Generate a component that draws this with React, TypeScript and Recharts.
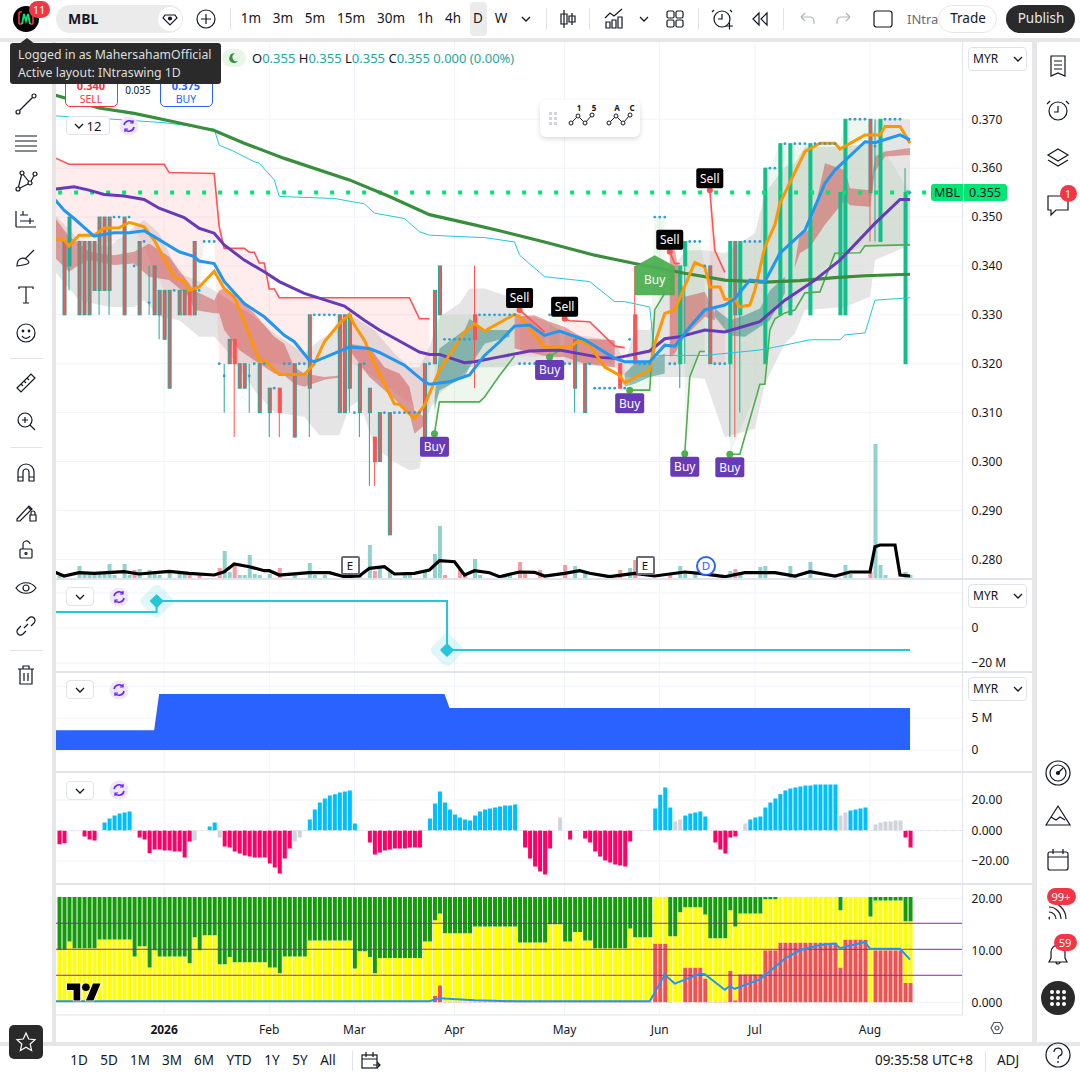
import React from "react";
import { ComposedChart, Line, Bar, Area, XAxis, YAxis, CartesianGrid, ReferenceLine, ReferenceDot, Cell } from "recharts";

const FONT = '"Noto Sans", sans-serif';
type P = [number, number];
type B = [number, number, number];

const monthBars = [21, 42, 59, 79, 101, 120, 139, 162];
const monthLabels = ["2026", "Feb", "Mar", "Apr", "May", "Jun", "Jul", "Aug"];
const priceTicks = [0.28, 0.29, 0.3, 0.31, 0.32, 0.33, 0.34, 0.35, 0.36, 0.37];

const orangeLine: P[] = [[-1,.3456],[1,.3453],[2,.3441],[4,.3463],[7,.3463],[8,.347],[9,.3477],[12,.3478],[14,.3489],[17,.348],[19,.3453],[23,.3378],[25,.3368],[26,.335],[28,.3357],[31,.3389],[33,.3354],[35,.3337],[37,.3286],[40,.3207],[41,.3207],[44,.3178],[49,.3178],[51,.32],[53,.3245],[56,.3282],[58,.3301],[59,.3279],[61,.3248],[63,.32],[67,.3118],[68,.3117],[71,.3088],[73,.3115],[74,.3139],[76,.3187],[81,.3265],[83,.3282],[85,.3267],[91,.3301],[92,.3296],[97,.3234],[102,.3234],[104,.3248],[106,.3238],[109,.3193],[112,.3176],[113,.3161],[118,.3187],[119,.3241],[121,.3303],[123,.331],[127,.3407],[129,.3398],[130,.3357],[132,.3357],[133,.3332],[135,.3332],[136,.3316],[138,.332],[139,.335],[141,.3439],[143,.3484],[144,.3528],[149,.3634],[152,.3651],[155,.3651],[156,.3639],[161,.3668],[164,.3668],[165,.3685],[168,.3685],[170,.3651]];
const blueLine: P[] = [[-1,.3538],[1,.3514],[3,.3497],[7,.3461],[11,.3468],[14,.3468],[17,.3472],[19,.346],[24,.3429],[27,.3419],[28,.341],[31,.3405],[33,.3368],[37,.3323],[41,.3296],[45,.3258],[47,.3245],[50,.3207],[51,.3204],[55,.3221],[58,.3234],[62,.3231],[64,.3223],[69,.3197],[73,.3163],[74,.3158],[78,.3163],[82,.3177],[85,.3217],[88,.3245],[91,.3277],[94,.3279],[97,.3258],[100,.3267],[105,.3249],[111,.3211],[113,.3204],[118,.3204],[121,.3238],[123,.3236],[126,.3275],[129,.331],[133,.332],[135,.3333],[138,.3371],[141,.3368],[144,.3426],[149,.3473],[153,.3569],[155,.3596],[161,.3654],[163,.3652],[168,.3668],[170,.3658]];
const purpleLine: P[] = [[-1,.3557],[3,.3562],[6,.3555],[9,.3546],[13,.3543],[17,.3536],[20,.3518],[25,.3499],[28,.3477],[31,.3467],[33,.3443],[37,.3412],[41,.3388],[44,.3368],[49,.3344],[57,.3318],[61,.3289],[64,.3269],[67,.3252],[72,.3224],[74,.3219],[76,.3219],[81,.3202],[83,.3204],[88,.3214],[94,.3226],[100,.3228],[108,.3213],[111,.3211],[118,.3226],[121,.3251],[124,.3255],[129,.3269],[133,.3265],[140,.3286],[145,.333],[151,.3371],[156,.3412],[163,.3487],[168,.3536],[170,.3536]];
const longLine: P[] = [[-1,.375],[8,.3723],[15,.3712],[22,.3697],[31,.3677],[37,.3651],[45,.362],[58,.3576],[66,.3542],[74,.3505],[83,.3484],[88,.3472],[97,.3449],[107,.3422],[115,.3405],[125,.3385],[133,.3371],[141,.3367],[148,.337],[155,.3376],[161,.338],[170,.3383]];
const cyanLine: P[] = [[-1,.3707],[8,.3702],[21,.3693],[31,.368],[32,.3647],[35,.3634],[39,.3613],[40,.361],[43,.3576],[44,.3542],[55,.3538],[61,.3527],[63,.3508],[69,.3497],[72,.347],[74,.3463],[78,.3461],[85,.3458],[91,.3449],[92,.3422],[97,.3378],[106,.3368],[111,.3327],[113,.3327],[118,.3316],[119,.3217],[121,.3217],[129,.3217],[140,.3228],[145,.3238],[150,.3249],[156,.3249],[157,.3259],[161,.3263],[163,.333],[170,.3335]];

const redStops: P[][] = [
  [[-1,.3622],[2,.3608],[21,.3608],[22,.3591],[31,.3589],[32,.348],[33,.3436],[37,.3436],[38,.3428],[39,.3428],[40,.3406],[41,.3406],[42,.3353],[43,.3353],[44,.3335],[70,.3335],[72,.3292],[74,.3292]],
  [[92,.331],[97,.3265]],
  [[101,.3292],[102,.3288],[106,.3286],[111,.3236],[113,.3233]],
  [[122,.3429],[123,.3405],[124,.3405]],
  [[130,.3555],[131,.3432],[133,.3387]],
];
const greenStops: P[][] = [
  [[75,.3057],[76,.3122],[84,.3122],[85,.3132],[88,.3176],[91,.3216]],
  [[98,.3214],[100,.3228]],
  [[114,.3146],[118,.3146],[119,.331],[121,.3344]],
  [[125,.3016],[126,.3173],[128,.3225],[129,.3225]],
  [[134,.3015],[136,.3015],[140,.3158],[141,.3158],[142,.3269],[143,.3292],[145,.3304],[147,.331],[149,.3345],[152,.3347],[155,.3426],[160,.3427],[161,.3441],[169,.3443],[170,.3443]],
];
const pinkBands: B[][] = [
  [[-1,.3622,.345],[2,.3608,.345],[12,.3608,.345],[14,.3608,.35],[21,.3608,.335],[22,.3591,.335],[28,.3589,.335],[29,.3589,.345],[31,.3589,.345],[32,.348,.32],[33,.3436,.32],[37,.3436,.32],[38,.3428,.32],[40,.3406,.32],[41,.3406,.32],[42,.3353,.32],[44,.3335,.32],[50,.3335,.32],[51,.3335,.33],[55,.3335,.33],[56,.3335,.322],[66,.3335,.315],[70,.3335,.312],[72,.3292,.31],[74,.3292,.31]],
  [[92,.331,.3215],[97,.3265,.3215]],
  [[101,.3292,.32],[106,.3286,.32],[111,.3236,.32],[113,.3233,.3153]],
  [[122,.3429,.32],[123,.3405,.32],[124,.3405,.32]],
  [[130,.3555,.32],[131,.3432,.32],[133,.3387,.32]],
];
const paleGreenBands: B[][] = [
  [[75,.32,.3057],[76,.33,.3122],[84,.33,.3122],[85,.33,.3132],[88,.33,.3176],[91,.33,.3216]],
  [[98,.33,.3214],[100,.33,.3228]],
  [[114,.32,.3146],[118,.32,.3146],[119,.35,.331],[121,.35,.3344]],
  [[125,.345,.3016],[126,.345,.3173],[128,.345,.3225],[129,.34,.3225]],
  [[134,.345,.3015],[140,.345,.3158],[141,.36,.3158],[142,.36,.3269],[144,.365,.33],[156,.365,.3426],[157,.37,.3427],[161,.37,.3441],[170,.355,.3443]],
];
const grayBand: B[] = [[-1,.3507,.3391],[4,.3453,.333],[10,.3439,.3316],[15,.348,.3316],[17,.3494,.333],[20,.3467,.3296],[24,.3385,.3289],[28,.3368,.3255],[31,.335,.3255],[34,.333,.3221],[39,.3296,.3146],[43,.3262,.3101],[49,.3221,.3091],[52,.3248,.3054],[56,.3275,.3054],[58,.3299,.3112],[60,.3289,.3125],[63,.3269,.303],[67,.3221,.2999],[70,.3193,.2982],[72,.3193,.2985],[74,.3234,.3105],[76,.3296,.3139],[80,.3323,.3173],[82,.3354,.3193],[85,.3354,.3193],[90,.3337,.3193],[92,.3303,.32],[97,.3289,.32],[101,.3262,.32],[111,.3248,.3193],[113,.32,.3173],[115,.3269,.3173],[118,.3269,.3173],[121,.3364,.3173],[125,.3432,.3173],[129,.3432,.3169],[133,.3426,.305],[139,.3467,.3067],[141,.3548,.3159],[145,.3603,.3241],[147,.361,.3262],[149,.3644,.331],[157,.3644,.3316],[162,.3651,.3337],[163,.3699,.3412],[170,.37,.3443]];
const redBands: B[][] = [
  [[-1,.3501,.3419],[2,.346,.3388],[4,.3446,.3402],[6,.3429,.3412],[11,.3422,.3402],[15,.3429,.3405],[18,.3446,.3378],[22,.3419,.3371],[26,.3364,.3337],[27,.335,.331],[31,.333,.3303],[32,.335,.3303],[33,.3354,.3269],[36,.333,.3228],[39,.3303,.3207],[43,.3255,.318],[45,.3241,.3176],[47,.3193,.3159],[49,.318,.3153],[53,.3173,.3167],[56,.3176,.3172]],
  [[58,.3241,.3228],[62,.3234,.3173],[65,.3193,.3146],[68,.318,.3118],[70,.3153,.3098],[71,.3105,.3057],[73,.3091,.3074]],
  [[91,.3296,.3231],[95,.3299,.3221],[98,.3286,.3214],[101,.3275,.3214],[105,.3251,.32],[111,.3248,.3193]],
  [[122,.3439,.3214],[123,.3432,.3221],[125,.3337,.3255],[129,.3347,.3296],[131,.3303,.3289]],
  [[147,.3405,.3398],[148,.3467,.3426],[150,.3473,.3439],[153,.361,.3484],[157,.3596,.3535],[158,.3559,.3524],[162,.3555,.3521],[163,.3624,.3593],[165,.3634,.3624],[170,.3641,.3627]],
];
const tealBands: B[][] = [
  [[75,.3125,.3105],[76,.3231,.3146],[81,.3269,.3173],[82,.3292,.3193],[85,.3269,.3241],[90,.3269,.3255]],
  [[113,.318,.3153],[115,.32,.3159],[118,.3207,.3173],[121,.3221,.318]],
  [[131,.3313,.3296],[134,.3289,.3258],[137,.3299,.3255],[140,.3313,.3275],[142,.335,.3289],[145,.3378,.3344]],
];

// bar, high, low, body top, body bottom, kind (x teal edge + red body, r solid red, g solid green, t teal)
const candles: [number, number, number, number, number, string][] = [
  [1,.345,.33,.345,.33,"x"],[2,.35,.335,.35,.34,"t"],[4,.345,.33,.345,.33,"x"],[5,.345,.33,.345,.33,"x"],[6,.345,.33,.345,.33,"x"],[7,.345,.335,.345,.335,"x"],[8,.35,.33,.35,.335,"x"],[9,.35,.335,.35,.335,"x"],[10,.35,.33,.35,.335,"x"],[13,.35,.33,.35,.33,"x"],[16,.345,.33,.345,.33,"x"],[18,.34,.33,.3325,.3325,"t"],[19,.34,.33,.34,.33,"x"],[20,.335,.325,.335,.33,"x"],[21,.335,.325,.335,.325,"x"],[22,.335,.315,.335,.315,"x"],[24,.335,.33,.335,.33,"x"],[25,.335,.33,.335,.33,"x"],[26,.335,.33,.335,.33,"r"],[27,.345,.33,.345,.33,"x"],
  [33,.32,.31,.3175,.3175,"t"],[34,.325,.32,.325,.32,"x"],[35,.325,.305,.325,.32,"r"],[36,.32,.315,.32,.315,"x"],[37,.32,.315,.32,.315,"x"],[38,.32,.31,.3175,.3175,"t"],[40,.32,.31,.32,.31,"x"],[42,.315,.305,.315,.31,"x"],[44,.315,.305,.315,.31,"r"],[47,.32,.305,.32,.305,"x"],[50,.33,.305,.33,.315,"x"],[56,.33,.31,.33,.31,"x"],[57,.33,.31,.33,.31,"x"],[58,.33,.31,.33,.315,"x"],[60,.32,.305,.32,.31,"x"],[62,.315,.295,.315,.31,"x"],[63,.305,.295,.305,.3,"r"],[64,.31,.3,.31,.3,"x"],[66,.31,.285,.31,.285,"x"],[73,.32,.305,.32,.305,"x"],[75,.335,.32,.335,.32,"x"],[76,.34,.33,.34,.33,"x"],[83,.34,.315,.33,.325,"r"],
  [103,.325,.31,.325,.315,"x"],[105,.32,.31,.32,.31,"x"],[112,.32,.315,.32,.315,"r"],[115,.34,.32,.33,.32,"r"],[124,.34,.315,.34,.32,"g"],[125,.345,.32,.345,.34,"g"],[130,.34,.32,.34,.32,"x"],[134,.345,.305,.345,.32,"g"],[135,.345,.305,.345,.33,"R"],[136,.345,.31,.345,.33,"g"],[141,.36,.32,.36,.32,"g"],[144,.365,.33,.365,.33,"g"],[146,.365,.33,.365,.33,"g"],[150,.365,.33,.365,.33,"g"],[156,.355,.33,.355,.33,"g"],[157,.37,.33,.37,.33,"g"],[162,.37,.345,.37,.355,"R"],[163,.37,.345,.3645,.3645,"t"],[164,.37,.345,.37,.345,"g"],[169,.36,.32,.355,.32,"g"],
];

const flatBars: [number, number[]][] = [
  [.37, [158,159,160,161,165,166,167,168]],
  [.365, [145,147,148,149,151,152,153,154,155]],
  [.36, [142,143]],
  [.355, [170]],
  [.35, [11,12,14,119,120,121]],
  [.345, [17,29,30,31,126,127,128,137,138,139,140]],
  [.34, [15,129]],
  [.335, [23,28]],
  [.33, [51,52,53,54,55,84,85,86,87,88,89,90,91,98,99,100]],
  [.325, [77,78,79,80,81,82,114]],
  [.32, [32,39,41,45,46,48,49,61,74,92,93,94,95,96,97,101,102,106,116,117,118,122,123,131,132,133]],
  [.315, [43,107,108,109,110,111,113]],
  [.31, [59,65,67,68,69,70,71,72]],
];

const volumeUp: P[] = [[0,2],[4,12],[5,4],[6,5],[7,4],[8,4],[9,5],[10,14],[11,3],[13,14],[14,3],[16,9],[18,8],[19,5],[20,3],[22,8],[24,7],[25,4],[33,27],[34,6],[36,3],[37,3],[38,23],[39,4],[40,3],[42,4],[47,5],[50,15],[51,3],[53,3],[60,4],[62,33],[64,10],[66,6],[69,4],[70,4],[73,8],[75,24],[76,52],[83,19],[84,3],[90,4],[88,2],[89,2],[103,12],[105,6],[114,10],[124,12],[125,4],[127,4],[134,7],[136,3],[140,11],[141,12],[146,12],[147,3],[150,16],[157,13],[158,4],[163,134],[164,13],[165,3],[169,6],[170,3]];
const volumeDown: P[] = [[15,8],[26,4],[28,3],[32,10],[35,15],[44,10],[58,3],[63,7],[77,3],[80,8],[81,4],[92,16],[93,5],[96,8],[101,13],[112,8],[115,18],[122,4],[133,3],[135,9],[162,6]];
const volumeAverage: P[] = [[-1,6.3],[1,2],[4,5.3],[7,4.7],[13,6.3],[16,4],[22,6.7],[26,4.7],[31,3],[33,6.3],[35,14],[38,11.3],[41,7.3],[42,7.3],[44,3],[50,5.3],[54,5.3],[57,1.3],[60,2],[62,9.7],[65,11.3],[67,4],[71,4.7],[74,8],[76,17.3],[79,16.3],[81,3],[83,7.3],[86,5.3],[88,1.3],[92,6],[95,5.7],[97,2],[101,4.7],[104,7.3],[106,4.7],[110,1.3],[115,4.7],[119,2],[125,6],[128,4.7],[133,1.3],[137,5.3],[143,5.3],[147,2],[150,6.3],[155,2],[158,6],[162,6],[163,31.3],[164,33],[167,33],[168,3],[170,2]];

const signals: [string, number, number][] = [
  ["Sell",92,.331],["Sell",101,.3292],["Sell",122,.3429],["Sell",130,.3555],
  ["Buy",75,.3057],["Buy",98,.3214],["Buy",114,.3146],["Buy",125,.3016],["Buy",134,.3015],
];

const flowLine: P[] = [[-1,9.1],[19,9.1],[20,15.4],[77,15.4],[78,-12.6],[170,-12.6]];
const flowMarks: P[] = [[20,15.4],[78,-12.6]];
const blueArea: P[] = [[-1,3.1],[19,3.1],[20,8.75],[77,8.75],[78,6.56],[170,6.56]];

const histogram = [-9,-8.3,0,0,0,-3.9,-5.9,-6.6,0,5.2,7.9,9.8,11.1,11.8,12.5,0,-4.6,-5.9,-15,-12.5,-12.5,-13.1,-13.1,-13.8,-13.8,-17.7,-7.2,-6.6,0,0,2.6,5.2,-4.6,-10.5,-11.1,-13.8,-15.1,-16.4,-17,-17.7,-17.7,-17.7,-21.6,-24.3,-28.2,-18.4,-11.8,-7.2,-4.6,0,7.2,13.8,18.4,21,23,23.8,24.9,25.6,26.2,4.6,0,0,-7.9,-15.7,-14.4,-13.1,-12.5,-11.8,-11.8,-11.8,-11.1,-11.1,-11.1,0,7.9,17.7,25.6,18.4,13.8,10.5,8.5,7.2,6.6,9.8,12.5,13.8,14.4,15.1,15.7,16.4,16.4,17,0,-11.1,-18.4,-23.6,-26.9,-28.9,-11.8,0,8.5,0,-5.9,0,0,-5.2,-7.9,-13.8,-17,-19.7,-21,-22.3,-23,-23.6,-7.2,0,0,0,0,14.4,23.4,28.2,15.1,5.9,7.2,9.8,11.1,11.8,12.5,9.2,0,-7.9,-12.5,-15.1,-4.6,-3.9,0,4.6,7.2,8.5,9.2,15.1,18.4,21,24,26.2,27.5,28.2,28.9,29.5,29.5,30.2,30.2,30.2,30.2,30.2,9.8,11.8,13.1,13.8,14.4,15.1,0,3.9,5.2,5.9,5.9,6.6,6.6,-4.6,-11.1];
const histogramGray = [27,32,47,48,100,123,124,137,156,157,163,164,165,166,167,168];

const yellowTop = [10.1,10.1,11.7,10.4,10.4,10.4,10.4,10.4,12.1,12.1,12.1,12.1,12.1,12.1,12.1,8.8,10.8,10.8,6.7,10,8.8,8.8,8.8,8.8,8.8,8.8,7.5,12.5,10,12.9,12.9,12.9,7.3,7.3,8.7,7.7,7.7,7.7,7.7,7.7,7.7,7.7,6.7,6.7,5.6,8.8,8.8,8.8,8.8,8.8,11.9,11.9,11.9,11.9,11.9,11.9,11.9,11.9,11.9,6.5,9.8,9.8,8.7,5.6,8.5,8.5,8.5,8.5,8.5,8.5,8.5,8.5,8.5,11.7,11.7,15.8,17.1,13.3,13.3,13.3,13.3,13.3,13.3,14.6,14.6,14.6,14.6,14.6,14.6,14.6,14.6,14.6,11.5,11.5,11.5,11.5,11.5,11.5,15,15,15,11.7,11.7,13.5,13.5,11.9,11.9,10.4,10.4,10.4,10.4,10.4,10.4,10.4,14.2,12.5,12.5,12.5,12.5,20.25,20.25,20.25,12.7,12.7,17.3,18.3,18.3,18.3,18.3,16.9,12.3,12.3,12.3,12.3,17.7,14.6,17.1,17.1,17.1,17.1,17.1,19.8,19.8,19.8,20.25,20.25,20.25,20.25,20.25,20.25,20.25,20.25,20.25,20.25,20.25,20.25,17.7,20.25,20.25,20.25,20.25,20.25,16.5,19.6,19.6,19.6,19.6,19.6,19.6,15.6,15.6];
const redTop = [0,0,0,0,0,0,0,0,0,0,0,0,0,0,0,0,0,0,0,0,0,0,0,0,0,0,0,0,0,0,0,0,0,0,0,0,0,0,0,0,0,0,0,0,0,0,0,0,0,0,0,0,0,0,0,0,0,0,0,0,0,0,0,0,0,0,0,0,0,0,0,0,0,0,0,1.2,3.3,.1,.1,.1,.1,.1,.1,.1,.1,.1,.1,.1,.1,.1,.1,.1,.1,.1,.1,.1,.1,.1,.1,.1,.1,.1,.1,.1,.1,.1,.1,.1,.1,.1,.1,.1,.1,.1,.1,.1,.1,.1,.1,11.3,11.3,11.3,.1,0,0,6.7,6.7,6.7,6.7,4.6,.1,.1,.1,.1,6,.4,5.4,5.4,5.4,5.4,5.4,10,10,10,11.5,11.5,11.5,11.5,11.5,11.5,11.5,11.5,11.5,11.5,11.5,11.5,6.7,12.1,12.1,12.1,12.1,12.1,0,10,10,10,10,10,10,3.7,3.7];
const fullScale = 20.25;
const strengthLine: P[] = [[-1,.2],[74,.2],[76,.8],[83,.4],[91,.2],[118,.2],[121,5.3],[123,3.6],[128,5.5],[129,5.4],[133,2.4],[134,3.1],[135,2.6],[140,4.4],[145,8.4],[148,10],[152,11],[155,11.3],[156,10.4],[161,11.6],[162,10.3],[168,10.3],[170,8.2]];
const strengthLevels = [15.2, 10.2, 5.2];

const newRows = (): any[] => Array.from({ length: 182 }, (_, k) => ({ i: k - 1 }));
const at = (rows: any[], i: number) => rows[i + 1];
const putLine = (rows: any[], key: string, pts: P[]) => pts.forEach(([i, v]) => { at(rows, i)[key] = v; });
const putBand = (rows: any[], key: string, pts: B[]) => {
  rows.forEach((r) => { r[key] = [null, null]; });
  pts.forEach(([i, a, b]) => { at(rows, i)[key] = [b, a]; });
};

const mainRows = newRows();
putLine(mainRows, "orange", orangeLine);
putLine(mainRows, "blue", blueLine);
putLine(mainRows, "purple", purpleLine);
putLine(mainRows, "long", longLine);
putLine(mainRows, "cyan", cyanLine);
putLine(mainRows, "volma", volumeAverage);
redStops.forEach((s, n) => putLine(mainRows, "rs" + n, s));
greenStops.forEach((s, n) => putLine(mainRows, "gs" + n, s));
pinkBands.forEach((s, n) => putBand(mainRows, "pb" + n, s));
paleGreenBands.forEach((s, n) => putBand(mainRows, "gb" + n, s));
redBands.forEach((s, n) => putBand(mainRows, "rb" + n, s));
tealBands.forEach((s, n) => putBand(mainRows, "tb" + n, s));
putBand(mainRows, "gray", grayBand);
candles.forEach(([i, h, l, t, b, k]) => { const r = at(mainRows, i); r.wick = [l, h]; r.body = t === b ? null : [b, t]; r.kind = k; if (t === b) r.flat = t; });
flatBars.forEach(([p, bars]) => bars.forEach((i) => { at(mainRows, i).flat = p; }));
volumeUp.forEach(([i, v]) => { const r = at(mainRows, i); r.vol = v; r.volUp = true; });
volumeDown.forEach(([i, v]) => { const r = at(mainRows, i); r.vol = v; r.volUp = false; });

const flowRows = newRows(); putLine(flowRows, "v", flowLine);
const blueRows = newRows(); putLine(blueRows, "v", blueArea);
const histRows = newRows(); histogram.forEach((v, i) => { at(histRows, i).v = v; });
const strengthRows = newRows();
yellowTop.forEach((y, i) => { const r = at(strengthRows, i); r.red = redTop[i]; r.yellow = y - redTop[i]; r.green = fullScale - y; });
putLine(strengthRows, "line", strengthLine);

const GRID = "#f0f3fa";
const BORDER = "#e0e3eb";
const W = 981;
const axisTick = { fontSize: 12, fontFamily: FONT, fill: "#131722" };
const M = { left: 0.5, right: 0, top: 0, bottom: 0 };
const PLOT_AXIS = 69.4;

const candleWick = (p: any) => {
  const k = p.payload.kind;
  return <rect x={p.x} y={p.y} width={p.width} height={p.height} fill={k === "r" || k === "R" ? "#ff5252" : "#26a69a"} />;
};
const candleBody = (p: any) => {
  const k = p.payload.kind;
  const fill = k === "g" ? "#0fbf8b" : k === "t" ? "#26a69a" : "#ff5252";
  const stroke = k === "x" || k === "R" ? "#26a69a" : fill;
  return <rect x={p.x + 0.5} y={p.y} width={p.width - 1} height={p.height} fill={fill} stroke={stroke} strokeWidth={1} />;
};
const SignalMark = (kind: string) => (p: any) => {
  const { cx, cy } = p;
  if (kind === "Sell") return (
    <g>
      <circle cx={cx} cy={cy} r={3} fill="#ff5252" />
      <rect x={cx - 13.5} y={cy - 22} width={27} height={20} rx={2} fill="#000" />
      <text x={cx} y={cy - 7.5} textAnchor="middle" fontSize={12} fontFamily={FONT} fill="#fff">Sell</text>
    </g>
  );
  return (
    <g>
      <circle cx={cx} cy={cy} r={3.5} fill="#4caf50" />
      <rect x={cx - 14.5} y={cy + 3} width={29} height={20} rx={2} fill="#673ab7" />
      <text x={cx} y={cy + 17.5} textAnchor="middle" fontSize={12} fontFamily={FONT} fill="#fff">Buy</text>
    </g>
  );
};
const BigBuy = (p: any) => {
  const { cx, cy } = p;
  return (
    <g>
      <path d={`M${cx} ${cy} L${cx + 20} ${cy + 11} V${cy + 40} H${cx - 20} V${cy + 11} Z`} fill="#4caf50" fillOpacity={0.95} />
      <text x={cx} y={cy + 29} textAnchor="middle" fontSize={12} fontFamily={FONT} fill="#fff">Buy</text>
    </g>
  );
};
const Diamond = (p: any) => {
  const cx = p.cx - 2.5;
  const cy = p.cy;
  return (
    <g>
      <rect x={cx - 13} y={cy - 13} width={26} height={26} rx={5} fill="#26c6da" fillOpacity={0.15} transform={`rotate(45 ${cx} ${cy})`} />
      <rect x={cx - 5} y={cy - 5} width={10} height={10} rx={1} fill="#26c6da" transform={`rotate(45 ${cx} ${cy})`} />
    </g>
  );
};

const Abs = ({ x, y, w, h, bg, style, children }: any) => (
  <div style={{ position: "absolute", left: x, top: y, width: w, height: h, background: bg, ...style }}>{children}</div>
);
const T = ({ x, y, s = 14, c = "#131722", a = "c", b, children }: any) => (
  <div style={{ position: "absolute", left: x, top: y, transform: `translate(${a === "c" ? "-50%" : a === "r" ? "-100%" : "0"},-50%)`, fontSize: s, color: c, fontWeight: b ? 700 : 400, whiteSpace: "nowrap", lineHeight: 1, fontFamily: FONT }}>{children}</div>
);
const Ic = ({ x, y, children, c = "#131722", sw = 1.2 }: any) => (
  <svg width={28} height={28} viewBox="-14 -14 28 28" style={{ position: "absolute", left: x - 14, top: y - 14 }} fill="none" stroke={c} strokeWidth={sw}>{children}</svg>
);
const Btn = ({ x, y, w, h, children }: any) => (
  <div style={{ position: "absolute", left: x, top: y, width: w, height: h, background: "#fff", border: "1px solid #e0e3eb", borderRadius: 4, boxSizing: "border-box" }}>{children}</div>
);
const Chev = ({ x, y, c = "#131722" }: any) => (
  <svg width={10} height={6} style={{ position: "absolute", left: x - 5, top: y - 3 }} fill="none" stroke={c} strokeWidth={1.3}><path d="M1 1l4 4 4-4" /></svg>
);
const Sync = ({ x, y }: any) => (
  <svg width={20} height={20} viewBox="-10 -10 20 20" style={{ position: "absolute", left: x - 10, top: y - 10 }} fill="none">
    <circle r={9.5} fill="#ede7f6" />
    <path d="M-5 -1a5.2 5.2 0 0 1 9-2.5M5 1a5.2 5.2 0 0 1-9 2.5" stroke="#651fff" strokeWidth={1.5} />
    <path d="M4 -6v3h-3M-4 6v-3h3" stroke="#651fff" strokeWidth={1.2} />
  </svg>
);
const Badge = ({ x, y, w = 17, children }: any) => (
  <div style={{ position: "absolute", left: x - w / 2, top: y - 8.5, width: w, height: 17, borderRadius: 9, background: "#f23645", color: "#fff", fontSize: 11, lineHeight: "17px", textAlign: "center", fontFamily: FONT }}>{children}</div>
);
const Currency = ({ y }: any) => (
  <Btn x={968} y={y} w={59} h={24}>
    <T x={4} y={11} s={12} a="l" c="#131722">MYR</T>
    <Chev x={49} y={11} />
  </Btn>
);

export default function App() {
  return (
    <div style={{ position: "absolute", left: 0, top: 0, width: 1080, height: 1080, background: "#e6e6e6", overflow: "hidden", fontFamily: FONT }}>
      <Abs x={56} y={42} w={976} h={1000} bg="#fff" />

      {/* main pane */}
      <div style={{ position: "absolute", left: 51, top: 42 }}>
        <ComposedChart width={W} height={536} data={mainRows} margin={M} barGap={0}>
          <CartesianGrid stroke={GRID} syncWithTicks />
          <XAxis dataKey="i" type="category" scale="band" hide ticks={monthBars} interval={0} padding={{ left: 0, right: 0 } as any} />
          <XAxis xAxisId="w" dataKey="i" type="category" scale="band" hide />
          <XAxis xAxisId="v" dataKey="i" type="category" scale="band" hide />
          <YAxis orientation="right" width={PLOT_AXIS} domain={[0.27618, 0.3858]} ticks={priceTicks} allowDataOverflow tick={axisTick} tickFormatter={(v: number) => v.toFixed(3)} tickLine={false} tickSize={0} tickMargin={9} axisLine={{ stroke: BORDER }} />
          <YAxis yAxisId="v" hide domain={[0, 536]} allowDataOverflow />

          <Area dataKey="gray" stroke="none" fill="#dcdcdc" fillOpacity={0.75} connectNulls isAnimationActive={false} dot={false} activeDot={false} />
          {pinkBands.map((_, n) => <Area key={n} dataKey={"pb" + n} stroke="none" fill="#ff5252" fillOpacity={0.1} connectNulls isAnimationActive={false} dot={false} activeDot={false} />)}
          {paleGreenBands.map((_, n) => <Area key={n} dataKey={"gb" + n} stroke="none" fill="#4caf50" fillOpacity={0.1} connectNulls isAnimationActive={false} dot={false} activeDot={false} />)}
          {redBands.map((_, n) => <Area key={n} dataKey={"rb" + n} stroke="none" fill="#cc3333" fillOpacity={0.42} connectNulls isAnimationActive={false} dot={false} activeDot={false} />)}
          {tealBands.map((_, n) => <Area key={n} dataKey={"tb" + n} stroke="none" fill="#1f7f78" fillOpacity={0.45} connectNulls isAnimationActive={false} dot={false} activeDot={false} />)}

          <Bar xAxisId="v" yAxisId="v" dataKey="vol" barSize={4} isAnimationActive={false}>
            {mainRows.map((r, n) => <Cell key={n} fill={r.volUp ? "#26a69a" : "#f23645"} fillOpacity={0.5} />)}
          </Bar>
          <Bar xAxisId="w" dataKey="wick" barSize={1} isAnimationActive={false} shape={candleWick} />
          <Bar dataKey="body" barSize={4} isAnimationActive={false} shape={candleBody} />

          <ReferenceLine y={0.355} stroke="#00e676" strokeWidth={4} strokeDasharray="4 12" strokeDashoffset={-4.5} />
          <Line dataKey="flat" stroke="none" isAnimationActive={false} activeDot={false} dot={{ r: 1.4, fill: "#2e9fd8", stroke: "none" }} />
          <Line dataKey="cyan" stroke="#26c6da" strokeWidth={1} dot={false} activeDot={false} connectNulls isAnimationActive={false} />
          {redStops.map((_, n) => <Line key={n} dataKey={"rs" + n} stroke="#ff5252" strokeWidth={1.6} dot={false} activeDot={false} connectNulls isAnimationActive={false} />)}
          {greenStops.map((_, n) => <Line key={n} dataKey={"gs" + n} stroke="#4caf50" strokeWidth={1.6} dot={false} activeDot={false} connectNulls isAnimationActive={false} />)}
          <Line dataKey="long" stroke="#388e3c" strokeWidth={3.2} dot={false} activeDot={false} connectNulls isAnimationActive={false} />
          <Line dataKey="purple" stroke="#673ab7" strokeWidth={3} dot={false} activeDot={false} connectNulls isAnimationActive={false} />
          <Line dataKey="orange" stroke="#ff9800" strokeWidth={3} dot={false} activeDot={false} connectNulls isAnimationActive={false} />
          <Line dataKey="blue" stroke="#2196f3" strokeWidth={3} dot={false} activeDot={false} connectNulls isAnimationActive={false} />
          <Line xAxisId="v" yAxisId="v" dataKey="volma" stroke="#000" strokeWidth={3.2} dot={false} activeDot={false} connectNulls isAnimationActive={false} />

          {signals.map(([k, i, p], n) => <ReferenceDot key={n} x={i} y={p} r={3} shape={SignalMark(k)} />)}
          <ReferenceDot x={119} y={0.3422} shape={BigBuy} />
        </ComposedChart>
      </div>

      {/* flow pane */}
      <div style={{ position: "absolute", left: 51, top: 579 }}>
        <ComposedChart width={W} height={92} data={flowRows} margin={M}>
          <CartesianGrid stroke={GRID} syncWithTicks />
          <XAxis dataKey="i" type="category" scale="band" hide ticks={monthBars} interval={0} />
          <YAxis orientation="right" width={PLOT_AXIS} domain={[-24.57, 28]} ticks={[0, -20]} allowDataOverflow tick={axisTick} tickFormatter={(v: number) => (v === 0 ? "0" : "\u221220 M")} tickLine={false} tickSize={0} tickMargin={9} axisLine={{ stroke: BORDER }} />
          <ReferenceLine y={20} stroke={GRID} />
          <Line type="step" dataKey="v" stroke="#26c6da" strokeWidth={2} dot={false} activeDot={false} connectNulls isAnimationActive={false} />
          {flowMarks.map(([i, v], n) => <ReferenceDot key={n} x={i} y={v} shape={Diamond} />)}
        </ComposedChart>
      </div>

      {/* blue area pane */}
      <div style={{ position: "absolute", left: 51, top: 672 }}>
        <ComposedChart width={W} height={99} data={blueRows} margin={M}>
          <CartesianGrid stroke={GRID} syncWithTicks />
          <XAxis dataKey="i" type="category" scale="band" hide ticks={monthBars} interval={0} />
          <YAxis orientation="right" width={PLOT_AXIS} domain={[-3.28, 12.19]} ticks={[0, 5]} allowDataOverflow tick={axisTick} tickFormatter={(v: number) => (v === 0 ? "0" : "5 M")} tickLine={false} tickSize={0} tickMargin={9} axisLine={{ stroke: BORDER }} />
          <ReferenceLine y={10} stroke={GRID} />
          <Area dataKey="v" stroke="none" fill="#2962ff" fillOpacity={1} connectNulls baseValue={0} isAnimationActive={false} dot={false} activeDot={false} />
        </ComposedChart>
      </div>

      {/* histogram pane */}
      <div style={{ position: "absolute", left: 51, top: 772 }}>
        <ComposedChart width={W} height={111} data={histRows} margin={M}>
          <CartesianGrid stroke={GRID} syncWithTicks />
          <XAxis dataKey="i" type="category" scale="band" hide ticks={monthBars} interval={0} />
          <YAxis orientation="right" width={PLOT_AXIS} domain={[-34.43, 38.36]} ticks={[-20, 0, 20]} allowDataOverflow tick={axisTick} tickFormatter={(v: number) => (v === 0 ? "0.000" : v < 0 ? "\u221220.00" : "20.00")} tickLine={false} tickSize={0} tickMargin={9} axisLine={{ stroke: BORDER }} />
          <ReferenceLine y={0} stroke="#e0e3eb" strokeDasharray="4 4" />
          <Bar dataKey="v" barSize={4} isAnimationActive={false}>
            {histRows.map((r, n) => <Cell key={n} fill={histogramGray.includes(r.i) ? "#d1d4dc" : r.v > 0 ? "#00bfff" : "#ff0066"} />)}
          </Bar>
        </ComposedChart>
      </div>

      {/* strength pane */}
      <div style={{ position: "absolute", left: 51, top: 884 }}>
        <ComposedChart width={W} height={158} data={strengthRows} margin={M}>
          <CartesianGrid stroke={GRID} syncWithTicks />
          <XAxis dataKey="i" type="category" scale="band" ticks={monthBars} interval={0} height={27} tickLine={false} tickSize={0} tickMargin={7} axisLine={{ stroke: BORDER }}
            tick={(p: any) => (
              <text x={p.x} y={p.y + 12} textAnchor="middle" fontSize={12} fontFamily={FONT} fontWeight={p.payload.value === 21 ? 700 : 400} fill="#131722">
                {monthLabels[monthBars.indexOf(p.payload.value)]}
              </text>
            )} />
          <YAxis orientation="right" width={PLOT_AXIS} domain={[-2.44, 22.75]} ticks={[0, 10, 20]} allowDataOverflow tick={axisTick} tickFormatter={(v: number) => (v === 0 ? "0.000" : v.toFixed(2))} tickLine={false} tickSize={0} tickMargin={9} axisLine={{ stroke: BORDER }} />
          <Bar dataKey="red" stackId="s" barSize={4} fill="#ef5350" isAnimationActive={false} />
          <Bar dataKey="yellow" stackId="s" barSize={4} fill="#ffff00" isAnimationActive={false} />
          <Bar dataKey="green" stackId="s" barSize={4} fill="#159a0c" isAnimationActive={false} />
          {strengthLevels.map((v) => <ReferenceLine key={v} y={v} stroke="#8e24aa" strokeWidth={1} />)}
          <Line dataKey="line" stroke="#2196f3" strokeWidth={2} dot={false} activeDot={false} connectNulls isAnimationActive={false} />
        </ComposedChart>
      </div>

      {/* pane separators */}
      {[578, 671, 771, 883].map((y) => <Abs key={y} x={56} y={y - 0.5} w={976} h={2} bg={BORDER} />)}
      <svg width={36} height={22} viewBox="-1 2 38 22" style={{ position: "absolute", left: 66, top: 981 }}>
        <path d="M14 22H7V11H0V4h14v18zM28 22h-8l7.5-18h8L28 22z" fill="#000" stroke="#fff" strokeWidth={1.5} paintOrder="stroke" />
        <circle cx={20} cy={8} r={4} fill="#000" />
      </svg>
      <Abs x={0} y={0} w={52} h={1080} bg="#fff" />
      <Abs x={52} y={0} w={4} h={1080} bg="#e6e6e6" />
      <Abs x={1032} y={0} w={5} h={1080} bg="#e6e6e6" />
      <Abs x={1037} y={0} w={43} h={1080} bg="#fff" />
      <Abs x={0} y={38} w={1080} h={4} bg="#e6e6e6" />
      <Abs x={0} y={0} w={1080} h={38} bg="#fff" />
      <Abs x={0} y={1042} w={1080} h={4} bg="#e6e6e6" />
      <Abs x={0} y={1046} w={1080} h={34} bg="#fff" />

      {/* price tag */}
      <Abs x={931} y={184} w={76} h={17} bg="#00e676" style={{ borderRadius: 3 }} />
      <Abs x={963} y={184} w={1} h={17} bg="#fff" />
      <T x={947} y={192.5} s={12.5}>MBL</T>
      <T x={985} y={192.5} s={12.5}>0.355</T>

      {/* currency + pane buttons */}
      <Currency y={47} /><Currency y={584} /><Currency y={677} />
      <Btn x={66} y={116} w={44} h={19}><Chev x={12} y={9} /><T x={27} y={9} s={13}>12</T></Btn>
      <Sync x={129} y={126} />
      <Btn x={66} y={587} w={28} h={19}><Chev x={13} y={9} /></Btn><Sync x={119} y={597} />
      <Btn x={66} y={680} w={28} h={19}><Chev x={13} y={9} /></Btn><Sync x={119} y={690} />
      <Btn x={66} y={781} w={28} h={19}><Chev x={13} y={9} /></Btn><Sync x={119} y={790} />

      {/* floating drawing bar */}
      <div style={{ position: "absolute", left: 540, top: 100, width: 100, height: 37, background: "#fff", borderRadius: 6, boxShadow: "0 2px 5px rgba(0,0,0,.15)" }}>
        <svg width={100} height={37} fill="none" stroke="#131722" strokeWidth={1}>
          {[0, 1].map((r) => [0, 1].map((q) => [0, 1, 2].map((k) => <rect key={`${r}${q}${k}`} x={9 + q * 5} y={12 + k * 5} width={3} height={3} fill="#d1d4dc" stroke="none" />)))}
          {[31, 69].map((o) => (
            <g key={o}>
              <path d={`M${o + 1} 22 L${o + 7} 16 L${o + 14} 23 L${o + 21} 15`} />
              <circle cx={o} cy={23} r={2} fill="#fff" /><circle cx={o + 7} cy={16} r={2} fill="#fff" /><circle cx={o + 14} cy={23} r={2} fill="#fff" /><circle cx={o + 21} cy={15} r={2} fill="#fff" />
            </g>
          ))}
        </svg>
        <T x={39} y={8} s={8} b>1</T><T x={54} y={8} s={8} b>5</T><T x={77} y={8} s={8} b>A</T><T x={92} y={8} s={8} b>C</T>
      </div>

      {/* legend */}
      <Abs x={222} y={49} w={24} h={18} bg="#e8f5e9" style={{ borderRadius: 9 }} />
      <Ic x={233} y={58} c="#388e3c"><path d="M2-4.5a4.8 4.8 0 1 0 3 7.5a4 4 0 0 1-3-7.5z" fill="#388e3c" stroke="none" /></Ic>
      <div style={{ position: "absolute", left: 252, top: 50, fontSize: 13, lineHeight: "16px", whiteSpace: "nowrap", color: "#26a69a", fontFamily: FONT }}>
        <span style={{ color: "#131722" }}>O</span>0.355&nbsp;<span style={{ color: "#131722" }}>H</span>0.355&nbsp;<span style={{ color: "#131722" }}>L</span>0.355&nbsp;<span style={{ color: "#131722" }}>C</span>0.355&nbsp;0.000 (0.00%)
      </div>

      {/* order buttons */}
      <Abs x={65} y={78} w={53} h={29} bg="#fff" style={{ border: "1px solid #f23645", borderRadius: 5, boxSizing: "border-box" }} />
      <T x={91} y={85} s={11} c="#f23645" b>0.340</T>
      <T x={91} y={99} s={10.5} c="#f23645">SELL</T>
      <T x={138} y={90} s={10}>0.035</T>
      <Abs x={160} y={78} w={53} h={29} bg="#fff" style={{ border: "1px solid #2962ff", borderRadius: 5, boxSizing: "border-box" }} />
      <T x={186} y={85} s={11} c="#2962ff" b>0.375</T>
      <T x={186} y={99} s={10.5} c="#2962ff">BUY</T>

      {/* login tooltip */}
      <Abs x={10} y={43} w={211} h={41} bg="#2a2a2a" style={{ borderRadius: 3 }} />
      <svg width={16} height={6} style={{ position: "absolute", left: 19, top: 38 }}><path d="M0 6L8 0L16 6Z" fill="#2a2a2a" /></svg>
      <T x={18} y={55} s={12.3} a="l" c="#dedede">Logged in as MahersahamOfficial</T>
      <T x={18} y={73} s={12.3} a="l" c="#dedede">Active layout: INtraswing 1D</T>

      {/* top bar */}
      <svg width={28} height={28} viewBox="-14 -14 28 28" style={{ position: "absolute", left: 12, top: 5 }}>
        <circle r={13} fill="#000" />
        <path d="M-7 5V-7M-7-7h3M-7 5h3M7 5V-7M7-7h-3M7 5h-3" stroke="#f23645" strokeWidth={1.6} fill="none" />
        <path d="M-4 5L-2-5L0 2L2-5L4 5" stroke="#00e676" strokeWidth={1.8} fill="none" />
      </svg>
      <Badge x={39} y={9} w={21}>11</Badge>
      <Abs x={56} y={5} w={127} h={28} bg="#ebebeb" style={{ borderRadius: 14 }} />
      <T x={68} y={19} s={14} a="l" b>MBL</T>
      <Abs x={158} y={7} w={24} h={24} bg="#fff" style={{ borderRadius: 12 }} />
      <Ic x={170} y={19}><path d="M-5-4H5L7-1L0 6L-7-1Z" /><circle cy={-0.5} r={1.5} fill="#131722" /></Ic>
      <Ic x={206} y={19}><circle r={9} /><path d="M-5 0H5M0-5V5" /></Ic>
      <Abs x={230} y={8} w={1} h={22} bg={BORDER} />
      <Abs x={470} y={2} w={17} h={34} bg="#ebebeb" style={{ borderRadius: 4 }} />
      {[["1m", 251], ["3m", 283], ["5m", 315], ["15m", 351], ["30m", 391], ["1h", 425], ["4h", 453], ["D", 478], ["W", 501]].map(([t, x]) => <T key={t as string} x={x} y={19} s={13.5}>{t}</T>)}
      <Chev x={526} y={19} />
      <Abs x={546} y={8} w={1} h={22} bg={BORDER} />
      <Ic x={568} y={19}><path d="M-4-9V9M-7-5H-1V5H-7ZM4-6V6M1-3H7V3H1Z" /></Ic>
      <Abs x={589} y={8} w={1} h={22} bg={BORDER} />
      <Ic x={614} y={19}><path d="M-8 9V3H-4V9ZM-2 9V1H2V9ZM4 9V-2H8V9ZM-9-1L-4-6L0-3L8-10" /></Ic>
      <Chev x={644} y={19} />
      <Ic x={675} y={19}><rect x={-8} y={-8} width={7} height={7} rx={1.5} /><rect x={1} y={-8} width={7} height={7} rx={1.5} /><rect x={-8} y={1} width={7} height={7} rx={1.5} /><rect x={1} y={1} width={7} height={7} rx={1.5} /></Ic>
      <Abs x={698} y={8} w={1} h={22} bg={BORDER} />
      <Ic x={722} y={19}><circle r={8} cy={0} /><path d="M0-5V0H-4M-8-9L-10-7M8-9L10-7M4 7H11M7.5 3.5V10.5" /></Ic>
      <Ic x={760} y={19}><path d="M-1-6L-7 0L-1 6ZM7-6L1 0L7 6Z" /></Ic>
      <Abs x={783} y={8} w={1} h={22} bg={BORDER} />
      <Ic x={807} y={19} c="#b2b5be"><path d="M-6-2H3A4 4 0 0 1 7 2V5M-6-2L-2-6M-6-2L-2 2" /></Ic>
      <Ic x={844} y={19} c="#b2b5be"><path d="M6-2H-3A4 4 0 0 0-7 2V5M6-2L2-6M6-2L2 2" /></Ic>
      <Ic x={883} y={19}><rect x={-9} y={-8} width={18} height={16} rx={2.5} /></Ic>
      <T x={907} y={19} s={13} a="l" c="#6a6d78">INtra</T>
      <Abs x={938} y={5} w={59} h={28} bg="#fff" style={{ border: "1px solid #e8e8e8", borderRadius: 14, boxSizing: "border-box" }} />
      <T x={968} y={19} s={13.5}>Trade</T>
      <Abs x={1006} y={5} w={69} h={28} bg="#2a2a2a" style={{ borderRadius: 14 }} />
      <T x={1041} y={19} s={13.5} c="#e8e8e8">Publish</T>

      {/* left toolbar */}
      <Ic x={26} y={104}><path d="M-7 7L7-7" /><circle cx={-8} cy={8} r={2} fill="#fff" /><circle cx={8} cy={-8} r={2} fill="#fff" /></Ic>
      <Ic x={26} y={143}><path d="M-11-7H11M-11-2H11M-11 3H11M-11 8H11" /></Ic>
      <Ic x={26} y={181}><path d="M-8 8L-4-8L4 2L9-7M-8 8L4 2" /><circle cx={-8} cy={8} r={2} fill="#fff" /><circle cx={-4} cy={-8} r={2} fill="#fff" /><circle cx={4} cy={2} r={2} fill="#fff" /><circle cx={9} cy={-7} r={2} fill="#fff" /></Ic>
      <Ic x={26} y={219}><path d="M-10 8H10M-10-8V8M-6-4H2M-6 2H8M-3-8V-4M4-1V5" /></Ic>
      <Ic x={26} y={258}><path d="M-9 8C-9 0-3-1 0 1S4 5 1 6S-9 8-9 8ZM-1 1L8-8" /></Ic>
      <Ic x={26} y={295}><path d="M-7-6V-8H7V-6M0-8V8M-3 8H3" /></Ic>
      <Ic x={26} y={333}><circle r={9} /><circle cx={-3} cy={-2} r={0.8} fill="#131722" /><circle cx={3} cy={-2} r={0.8} fill="#131722" /><path d="M-4 3A4.5 4.5 0 0 0 4 3" /></Ic>
      <Abs x={10} y={358} w={33} h={1} bg={BORDER} />
      <Ic x={26} y={383}><path d="M-9 5L5-9L9-5L-5 9ZM-5 1L-3 3M-2-2L0 0M1-5L3-3" /></Ic>
      <Ic x={26} y={421}><circle cx={-1} cy={-1} r={7} /><path d="M4 4L9 9M-4-1H2M-1-4V2" /></Ic>
      <Abs x={10} y={447} w={33} h={1} bg={BORDER} />
      <Ic x={26} y={473}><path d="M-8 8V-1A8 8 0 0 1 8-1V8H3V-1A3 3 0 0 0-3-1V8ZM-8 4H-3M3 4H8" /></Ic>
      <Ic x={26} y={512}><path d="M-9 7L3-6L6-3L-6 9L-9 9ZM2-5L5-2M4 3H10V9H4ZM5 3V1A2 2 0 0 1 9 1V3" /></Ic>
      <Ic x={26} y={550}><rect x={-6} y={-1} width={12} height={9} rx={1} /><path d="M-3-1V-5A3.5 3.5 0 0 1 4-6" /><circle cy={3.5} r={1} /></Ic>
      <Ic x={26} y={588}><path d="M-10 0C-5-7 5-7 10 0C5 7-5 7-10 0Z" /><circle r={3} /></Ic>
      <Ic x={26} y={626}><path d="M-2 2L2-2M-5 0L-8 3A3 3 0 0 0-3 8L0 5M5 0L8-3A3 3 0 0 0 3-8L0-5" /></Ic>
      <Abs x={10} y={650} w={33} h={1} bg={BORDER} />
      <Ic x={26} y={675}><path d="M-8-6H8M-3-6V-9H3V-6M-6-6V9H6V-6M-2-2V6M2-2V6" /></Ic>
      <Abs x={9} y={1025} w={34} h={34} bg="#2a2a2a" style={{ borderRadius: 5 }} />
      <Ic x={26} y={1042} c="#fff"><path d="M0-9L2.7-3L9-2.3L4.2 2L5.6 8.5L0 5.2L-5.6 8.5L-4.2 2L-9-2.3L-2.7-3Z" /></Ic>

      {/* right toolbar */}
      <Ic x={1058} y={66}><path d="M-7-10H7V10L0 7L-7 10ZM-4-5H4M-4-1H4M-4 3H4" /></Ic>
      <Ic x={1058} y={110}><circle r={9} cy={1} /><path d="M0-4V2H-4M-8-9L-11-6M8-9L11-6" /></Ic>
      <Ic x={1058} y={157}><path d="M0-8L10-2L0 4L-10-2ZM-10 3L0 9L10 3" /></Ic>
      <Ic x={1058} y={204}><path d="M-10-8H10V6H-2L-7 11V6H-10Z" /></Ic>
      <Badge x={1068} y={193}>1</Badge>
      <Ic x={1058} y={773}><circle r={12} /><circle r={8} /><path d="M0 0L5-5" /><circle r={1.5} fill="#131722" /></Ic>
      <Ic x={1058} y={816}><path d="M-12 9L0-10L12 9ZM-7 1L-2 4L2 1L7 4" /></Ic>
      <Ic x={1058} y={860}><rect x={-10} y={-8} width={20} height={18} rx={2} /><path d="M-10-3H10M-5-11V-6M5-11V-6" /></Ic>
      <Ic x={1058} y={910}><path d="M-8 9A1 1 0 0 1-8 7M-9 2A7 7 0 0 1-2 9M-9-3A12 12 0 0 1 3 9M-9-8A17 17 0 0 1 8 9" /></Ic>
      <Badge x={1061} y={896} w={29}>99+</Badge>
      <Ic x={1058} y={954}><path d="M-9 8H9L7 4V-2A7 7 0 0 0-7-2V4ZM-2 8A2 2 0 0 0 2 8M0-9V-11" /></Ic>
      <Badge x={1065} y={942} w={23}>59</Badge>
      <svg width={34} height={34} viewBox="-17 -17 34 34" style={{ position: "absolute", left: 1041, top: 981 }}>
        <circle r={17} fill="#2a2a2a" />
        {[-6, 0, 6].map((a) => [-6, 0, 6].map((b) => <circle key={`${a}${b}`} cx={a} cy={b} r={2} fill="#fff" />))}
      </svg>
      <Ic x={1058} y={1055}><circle r={12} /><path d="M-4-3A4 4 0 1 1 1 1Q0 2 0 4M0 6V8" /></Ic>

      {/* event badges */}
      {[350, 645].map((x) => (
        <div key={x} style={{ position: "absolute", left: x - 9.5, top: 556, width: 19, height: 19, border: "2px solid #6a6d78", borderRadius: 2, background: "#fff", boxSizing: "border-box", fontSize: 11.5, lineHeight: "15px", textAlign: "center", color: "#131722", fontFamily: FONT }}>E</div>
      ))}
      <div style={{ position: "absolute", left: 696, top: 556, width: 20, height: 20, border: "2px solid #2962ff", borderRadius: 10, background: "#fff", boxSizing: "border-box", fontSize: 11.5, lineHeight: "16px", textAlign: "center", color: "#2962ff", fontFamily: FONT }}>D</div>

      {/* footer */}
      <Ic x={997} y={1028} c="#50535e"><path d="M-6 0L-3-5.5H3L6 0L3 5.5H-3Z" /><circle r={2} /></Ic>
      {[["1D", 79], ["5D", 109], ["1M", 140], ["3M", 172], ["6M", 204], ["YTD", 239], ["1Y", 272], ["5Y", 300], ["All", 328]].map(([t, x]) => <T key={t as string} x={x} y={1061} s={13.5}>{t}</T>)}
      <Abs x={352} y={1051} w={1} h={20} bg={BORDER} />
      <Ic x={370} y={1061}><rect x={-8} y={-6} width={15} height={13} /><path d="M-8-2H7M-4-9V-4M3-9V-4M3 4H10M7 1L10 4L7 7" /></Ic>
      <T x={924} y={1061} s={13.5}>09:35:58 UTC+8</T>
      <Abs x={985} y={1051} w={1} h={20} bg={BORDER} />
      <T x={1008} y={1061} s={13.5}>ADJ</T>
    </div>
  );
}
